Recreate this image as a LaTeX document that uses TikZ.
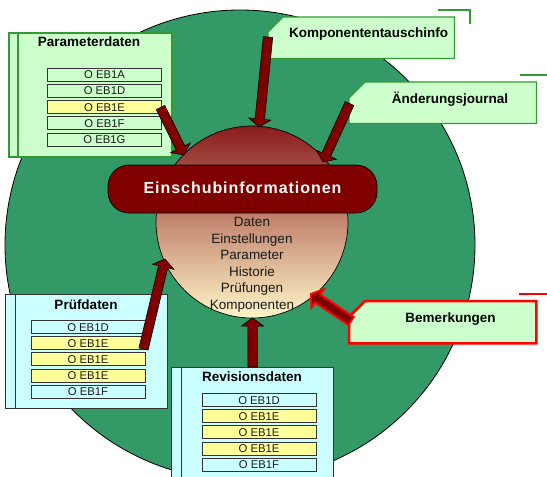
\documentclass[tikz,border=0pt]{standalone}
\usepackage{fontspec}
\setmainfont{Liberation Sans}
\usetikzlibrary{calc}
\definecolor{bigG}{HTML}{339966}
\definecolor{lgreen}{HTML}{CCFFCC}
\definecolor{bgreen}{HTML}{339933}
\definecolor{lcyan}{HTML}{CCFFFF}
\definecolor{lyellow}{HTML}{FFFF99}
\definecolor{dred}{HTML}{800000}
\definecolor{itemB}{HTML}{333333}
\definecolor{txt}{HTML}{1A1A1A}
\definecolor{shTop}{HTML}{8A1C1C}
\definecolor{shMid}{HTML}{BE7C68}
\definecolor{shBot}{HTML}{FFF6C8}
\newcommand\blockarrow[3][]{%
  \path (#2) coordinate (bA) (#3) coordinate (bB);
  \path ($(bB)!8pt!(bA)$) coordinate (bH);
  \draw[arrowfill,#1] ($(bA)!4.7pt!90:(bB)$) -- ($(bH)!4.7pt!-90:(bA)$) -- ($(bH)!11pt!-90:(bA)$) -- (bB)
     -- ($(bH)!11pt!90:(bA)$) -- ($(bH)!4.7pt!90:(bA)$) -- ($(bA)!4.7pt!-90:(bB)$) -- cycle;
}
\begin{document}
\begin{tikzpicture}[x=1pt,y=-1pt,
  itembox/.style={draw=itemB, line width=0.9pt, minimum width=114pt, minimum height=13pt, inner sep=0pt,
     text=txt, text height=8.1pt, text depth=0pt, font=\fontsize{11.3}{12}\selectfont},
  itemg/.style={itembox, fill=lgreen},
  itemc/.style={itembox, fill=lcyan},
  itemy/.style={itembox, fill=lyellow},
  title/.style={font=\bfseries\fontsize{13.5}{15}\selectfont, text=black, inner sep=0pt, anchor=base},
  panel/.style={anchor=north west, inner sep=0pt, line width=1pt},
  callout/.style={anchor=north west, inner sep=0pt},
  arrowfill/.style={fill=dred, draw=black, line width=0.6pt, line join=miter},
  deco/.style={line width=1.5pt},
]
\clip (0,0) rectangle (547,477);
\fill[white] (0,0) rectangle (547,477);
% big circle
\node[circle, draw=black, line width=0.8pt, fill=bigG, minimum size=470pt, inner sep=0pt] (big) at (240,245) {};
% inner circle
\node[circle, draw=black, line width=0.7pt, minimum size=192pt, inner sep=0pt,
      top color=shTop, middle color=shMid, bottom color=shBot] (inner) at (252,222) {};
% banner
\node[draw=black, line width=0.7pt, fill=dred, rounded corners=21pt, minimum width=269pt, minimum height=48pt, inner sep=0pt] (banner) at (242.5,189) {};
\node[anchor=base, inner sep=0pt, text=white, font=\bfseries\fontsize{16}{18}\selectfont\addfontfeature{LetterSpace=6}] (bannerT) at (242.5,193.3) {Einschubinformationen};
% inner text
\node[anchor=base, inner sep=0pt, align=center, text=txt, font=\fontsize{13.5}{16.5}\selectfont] (innerT) at (252,309.3)
  {Daten\\Einstellungen\\Parameter\\Historie\\Prüfungen\\Komponenten};

% Parameterdaten panel
\node[panel, draw=bgreen, line width=1.5pt, fill=lgreen, minimum width=163pt, minimum height=124pt] (param) at (8,32) {};
\draw[bgreen, line width=1.5pt] ([xshift=10pt]param.north west) -- ([xshift=10pt]param.south west);
\node[title] (paramT) at (89,46.7) {Parameterdaten};
\node[itemg] (p1) at (104.5,74.5) {O EB1A};
\node[itemg] (p2) at (104.5,90.7) {O EB1D};
\node[itemy] (p3) at (104.5,107) {O EB1E};
\node[itemg] (p4) at (104.5,123.2) {O EB1F};
\node[itemg] (p5) at (104.5,139.5) {O EB1G};

% Pruefdaten panel
\node[panel, draw=itemB, fill=lcyan, minimum width=162pt, minimum height=114pt] (pruef) at (5,294) {};
\draw[itemB, line width=1pt] ([xshift=10pt]pruef.north west) -- ([xshift=10pt]pruef.south west);
\node[title] (pruefT) at (86,309.3) {Prüfdaten};
\node[itemc] (q1) at (88,327) {O EB1D};
\node[itemy] (q2) at (88,343.2) {O EB1E};
\node[itemy] (q3) at (88,359.4) {O EB1E};
\node[itemy] (q4) at (88,375.6) {O EB1E};
\node[itemc] (q5) at (88,391.8) {O EB1F};

% Revisionsdaten panel
\node[panel, draw=itemB, fill=lcyan, minimum width=162pt, minimum height=125pt] (rev) at (171,367) {};
\draw[itemB, line width=1pt] ([xshift=10pt]rev.north west) -- ([xshift=10pt]rev.south west);
\node[title] (revT) at (252,381.7) {Revisionsdaten};
\node[itemc] (r1) at (259,400) {O EB1D};
\node[itemy] (r2) at (259,416.2) {O EB1E};
\node[itemy] (r3) at (259,432.4) {O EB1E};
\node[itemy] (r4) at (259,448.6) {O EB1E};
\node[itemc] (r5) at (259,464.8) {O EB1F};

% callouts
\node[callout, minimum width=186pt, minimum height=41pt] (kti) at (268,17) {};
\draw[bgreen, line width=1.2pt, fill=lgreen] ([xshift=15pt]kti.north west) -- (kti.north east) -- (kti.south east)
   -- (kti.south west) -- ([yshift=-15pt]kti.north west) -- cycle;
\node[title] (ktiT) at (368.5,37.7) {Komponententauschinfo};
\draw[bgreen, deco] (438,10) -- (470,10) -- (470,24);

\node[callout, minimum width=187pt, minimum height=41pt] (aej) at (349,82) {};
\draw[bgreen, line width=1.2pt, fill=lgreen] ([xshift=16pt]aej.north west) -- (aej.north east) -- (aej.south east)
   -- (aej.south west) -- ([yshift=-16pt]aej.north west) -- cycle;
\node[title] (aejT) at (450,103.3) {Änderungsjournal};
\draw[bgreen, deco] (520,75) -- (547,75);

\node[callout, minimum width=187pt, minimum height=42pt] (bem) at (349,301) {};
\draw[red, line width=2.5pt, fill=lgreen] ([xshift=16pt]bem.north west) -- (bem.north east) -- (bem.south east)
   -- (bem.south west) -- ([yshift=-16pt]bem.north west) -- cycle;
\node[title] (bemT) at (450.5,322.7) {Bemerkungen};
\draw[red, deco] (519,294) -- (547,294);

% arrow end points
\coordinate (a1s) at (160.5,107.5); \coordinate (a1e) at (184,155);
\coordinate (a2s) at (268,37);      \coordinate (a2e) at (259,127);
\coordinate (a3s) at (349.5,103.5); \coordinate (a3e) at (323,162);
\coordinate (a4s) at (143.5,349);   \coordinate (a4e) at (165,259);
\coordinate (a5s) at (252.5,367);   \coordinate (a5e) at (252.5,318);
\coordinate (a6s) at (351,321);     \coordinate (a6e) at (311,294);
\blockarrow{a1s}{a1e}
\blockarrow{a2s}{a2e}
\blockarrow{a3s}{a3e}
\blockarrow{a4s}{a4e}
\blockarrow{a5s}{a5e}
\blockarrow[draw=red, line width=2pt]{a6s}{a6e}
\end{tikzpicture}
\end{document}
